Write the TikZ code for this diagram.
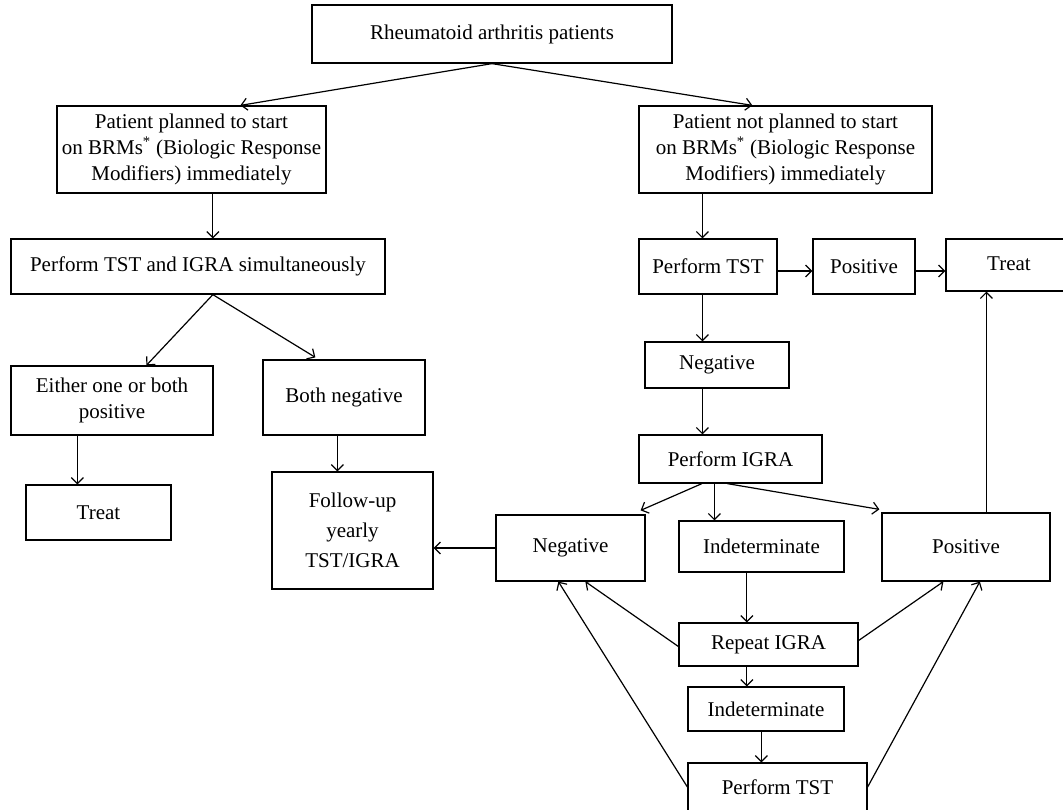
\documentclass[tikz,border=0pt]{standalone}
\usepackage{fontspec}
\setmainfont{Liberation Serif}
\usetikzlibrary{arrows.meta}
\tikzset{
  bx/.style={draw, line width=1.25pt, inner sep=0pt, align=center, font=\fontsize{21}{26}\selectfont},
  ar/.style={line width=1.2pt, -{Straight Barb[length=6pt,width=12pt]}}
}
\newcommand\mkbox[6]{\node[bx, minimum width={(#4-#2)*1pt}, minimum height={(#5-#3)*1pt}] (#1) at ({(#2+#4)/2},{(#3+#5)/2}) {#6};}
\begin{document}
\begin{tikzpicture}[x=1pt,y=-1pt]
\useasboundingbox (0,0) rectangle (1063,809);
\clip (0,0) rectangle (1063,809);
% boxes
\mkbox{top}{312}{5}{672}{63}{Rheumatoid arthritis patients}
\mkbox{lbrm}{57}{106}{326}{193}{Patient planned to start\\on BRMs\textsuperscript{*} (Biologic Response\\Modifiers) immediately}
\mkbox{rbrm}{639}{106}{932}{193}{Patient not planned to start\\on BRMs\textsuperscript{*} (Biologic Response\\Modifiers) immediately}
\mkbox{both}{11}{239}{385}{294}{Perform TST and IGRA simultaneously}
\mkbox{ptst}{639}{239}{777}{294}{Perform TST}
\mkbox{pos1}{813}{239}{915}{294}{Positive}
\mkbox{treat1}{946}{239}{1072}{291}{\raisebox{3pt}{Treat}}
\mkbox{neg1}{645}{342}{789}{388}{Negative}
\mkbox{either}{11}{366}{213}{435}{Either one or both\\positive}
\mkbox{bneg}{263}{360}{425}{435}{Both negative}
\mkbox{treat2}{26}{485}{171}{540}{Treat}
\mkbox{follow}{272}{472}{433}{589}{Follow-up\\[4pt]yearly\\[4pt]TST/IGRA}
\mkbox{pigra}{639}{435}{822}{483}{Perform IGRA}
\mkbox{neg2}{496}{515}{645}{581}{Negative}
\mkbox{ind1}{679}{521}{844}{572}{Indeterminate}
\mkbox{pos2}{882}{513}{1050}{581}{Positive}
\mkbox{rep}{679}{623}{858}{666}{Repeat IGRA}
\mkbox{ind2}{688}{687}{844}{731}{Indeterminate}
\mkbox{ptst2}{688}{763}{867}{811}{Perform TST}
% connectors
\draw[ar] (top.south) -- ([xshift=184pt]lbrm.north west);
\draw[ar] (top.south) -- ([xshift=114pt]rbrm.north west);
\draw[ar] ([xshift=156.5pt]lbrm.south west) -- ([xshift=202.5pt]both.north west);
\draw[ar] ([xshift=202.5pt]both.south west) -- ([xshift=136pt]either.north west);
\draw[ar] ([xshift=202.5pt]both.south west) -- ([xshift=53pt,yshift=2pt]bneg.north west);
\draw[ar] ([xshift=67pt]either.south west) -- ([xshift=52pt]treat2.north west);
\draw[ar] ([xshift=75pt]bneg.south west) -- ([xshift=66pt]follow.north west);
\draw[ar] (neg2.west) -- (neg2.west -| follow.east);
\draw[ar] ([xshift=64pt]rbrm.south west) -- ([xshift=64pt]ptst.north west);
\draw[ar] ([yshift=-4.5pt]ptst.east) -- ([yshift=-4.5pt]ptst.east -| pos1.west);
\draw[ar] ([yshift=-4.5pt]pos1.east) -- ([yshift=-4.5pt]pos1.east -| treat1.west);
\draw[ar] ([xshift=64pt]ptst.south west) -- ([xshift=58pt]neg1.north west);
\draw[ar] ([xshift=58pt]neg1.south west) -- ([xshift=64pt]pigra.north west);
\draw[ar] ([xshift=105pt]pos2.north west) -- ([xshift=41pt]treat1.south west);
\draw[ar] ([xshift=63.5pt]pigra.south west) -- ([xshift=-5pt,yshift=4pt]neg2.north east);
\draw[ar] ([xshift=76pt]pigra.south west) -- ([xshift=36pt]ind1.north west);
\draw[ar] ([xshift=89pt]pigra.south west) -- ([xshift=-2pt,yshift=3pt]pos2.north west);
\draw[ar] ([xshift=68.5pt]ind1.south west) -- ([xshift=68.5pt]rep.north west);
\draw[ar] ([yshift=-2pt]rep.west) -- ([xshift=90pt]neg2.south west);
\draw[ar] ([yshift=4pt]rep.east) -- ([xshift=62pt]pos2.south west);
\draw[ar] ([xshift=68.5pt]rep.south west) -- ([xshift=59.5pt]ind2.north west);
\draw[ar] ([xshift=74pt]ind2.south west) -- ([xshift=74pt]ptst2.north west);
\draw[ar] (ptst2.west) -- ([xshift=63pt]neg2.south west);
\draw[ar] (ptst2.east) -- ([xshift=98.5pt]pos2.south west);
\end{tikzpicture}
\end{document}
